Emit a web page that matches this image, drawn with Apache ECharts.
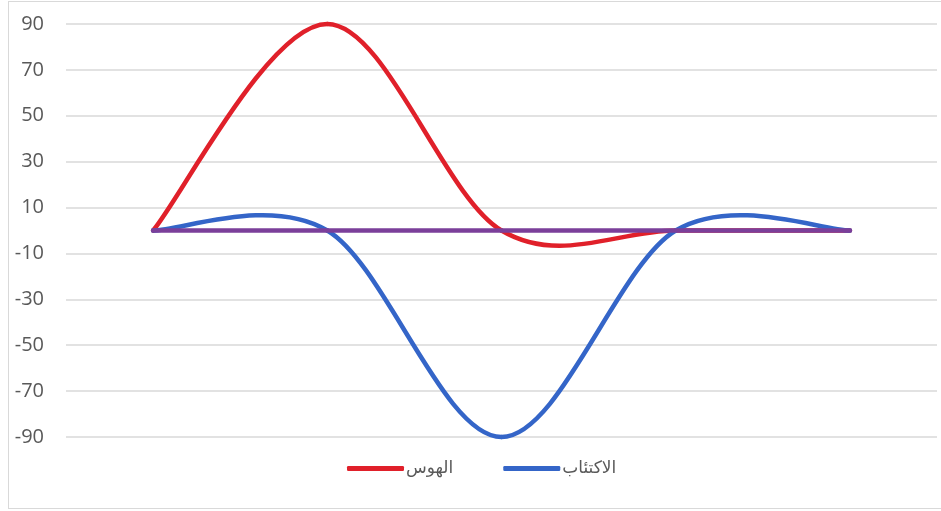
<!DOCTYPE html>
<html>
<head>
<meta charset="utf-8">
<style>
  html, body { margin: 0; padding: 0; background: #fff; }
  #frame { position: absolute; left: 8px; top: 1px; width: 940px; height: 508px; border: 1px solid #d9d9d9; box-sizing: border-box; }
  #chart { position: absolute; left: 0; top: 0; width: 941px; height: 511px; }
</style>
<script src="https://cdn.jsdelivr.net/npm/echarts@6/dist/echarts.min.js"></script>
</head>
<body>
<div id="frame"></div>
<div id="chart"></div>
<script>
// Phases of the cycle (category positions; not labelled on the axis)
const categories = ['1', '2', '3', '4', '5'];
// Mania series
const maniaValues = [0, 90, 0, 0, 0];
// Depression series
const depressionValues = [0, 0, -90, 0, 0];
// Baseline
const baselineValues = [0, 0, 0, 0, 0];
// Value-axis range and step
const yMin = -90, yMax = 90, yStep = 20;

const maniaName = 'الهوس';
const depressionName = 'الاكتئاب';

const chart = echarts.init(document.getElementById('chart'));
const textColor = '#595959';
const fontFamily = '"Open Sans", "DejaVu Sans", sans-serif';

// Spreadsheet-style smoothed line: each item draws the cubic segment to the
// next point, with Catmull-Rom tangents (neighbour difference / 6).
function smoothSegment(color, count) {
  return function (params, api) {
    const i = params.dataIndex;
    if (i >= count - 1) return null;
    const pt = j => {
      const k = Math.max(0, Math.min(count - 1, j));
      return api.coord([api.value(0, k), api.value(1, k)]);
    };
    const p0 = pt(i - 1), p1 = pt(i), p2 = pt(i + 1), p3 = pt(i + 2);
    return {
      type: 'bezierCurve',
      shape: {
        x1: p1[0], y1: p1[1],
        x2: p2[0], y2: p2[1],
        cpx1: p1[0] + (p2[0] - p0[0]) / 6,
        cpy1: p1[1] + (p2[1] - p0[1]) / 6,
        cpx2: p2[0] - (p3[0] - p1[0]) / 6,
        cpy2: p2[1] - (p3[1] - p1[1]) / 6
      },
      style: { stroke: color, lineWidth: 4.5, fill: null, lineCap: 'round' }
    };
  };
}

function curveSeries(name, values, color) {
  return {
    name: name,
    type: 'custom',
    data: values.map((v, i) => [i, v]),
    encode: { x: 0, y: 1 },
    itemStyle: { color: color },
    renderItem: smoothSegment(color, values.length)
  };
}

chart.setOption({
  animation: false,
  grid: { left: 66, right: 4, top: 24, bottom: 74, containLabel: false },
  legend: {
    data: [
      { name: maniaName, icon: 'roundRect', itemStyle: { color: '#e0202a' } },
      { name: depressionName, icon: 'roundRect', itemStyle: { color: '#3465c8' } }
    ],
    bottom: 29,
    left: 342,
    itemWidth: 57,
    itemHeight: 5,
    itemGap: 50,
    textStyle: { color: textColor, fontSize: 17, fontFamily: fontFamily, padding: [0, 0, 0, -3] }
  },
  xAxis: {
    type: 'category',
    data: categories,
    boundaryGap: true,
    axisLine: { show: false },
    axisTick: { show: false },
    axisLabel: { show: false },
    splitLine: { show: false }
  },
  yAxis: {
    type: 'value',
    min: yMin,
    max: yMax,
    interval: yStep,
    axisLine: { show: false },
    axisTick: { show: false },
    axisLabel: { color: textColor, fontSize: 20, fontFamily: fontFamily, margin: 22 },
    splitLine: { lineStyle: { color: '#d9d9d9', width: 1.5 } }
  },
  series: [
    curveSeries(maniaName, maniaValues, '#e0202a'),
    curveSeries(depressionName, depressionValues, '#3465c8'),
    {
      name: 'baseline',
      type: 'line',
      data: baselineValues,
      symbol: 'none',
      lineStyle: { color: '#7b3f9a', width: 4.5, cap: 'round' },
      itemStyle: { color: '#7b3f9a' }
    }
  ]
});
</script>
</body>
</html>
